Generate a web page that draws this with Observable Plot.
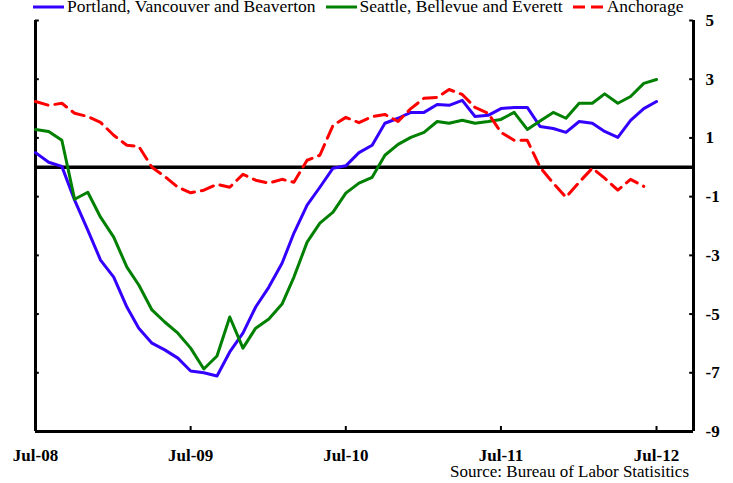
<!DOCTYPE html>
<html>
<head>
<meta charset="utf-8">
<script src="https://cdn.jsdelivr.net/npm/d3@7"></script>
<script src="https://cdn.jsdelivr.net/npm/@observablehq/plot@0.6"></script>
<style>
  html, body { margin: 0; padding: 0; background: #fff; }
  #wrap { position: relative; width: 733px; height: 483px; overflow: hidden; font-family: "Liberation Serif", "Times New Roman", serif; }
  #legend { position: absolute; left: 33px; top: -4px; display: flex; align-items: center; font-size: 17.5px; white-space: nowrap; color: #000; }
  #legend .item { display: flex; align-items: center; margin-right: 10px; }
  #legend svg { margin-right: 3px; }
  #source { position: absolute; right: 44px; top: 463px; font-size: 17px; line-height: 17px; color: #000; white-space: nowrap; }
  #chart { position: absolute; left: 0; top: 0; }
</style>
</head>
<body>
<div id="wrap">
  <div id="chart"></div>
  <div id="legend"></div>
  <div id="source">Source: Bureau of Labor Statisitics</div>
</div>
<script>
// ---- Data (percent change, monthly, Jul-08 .. Jul-12) ----
const seriesNames = ["Portland, Vancouver and Beaverton", "Seattle, Bellevue and Everett", "Anchorage"];
const seriesColors = ["#3300ff", "#008000", "#ff0000"];

const portland = [0.5,0.17,0.03,-1.12,-2.14,-3.16,-3.74,-4.76,-5.48,-5.99,-6.22,-6.5,-6.94,-7.0,-7.11,-6.29,-5.65,-4.76,-4.08,-3.27,-2.24,-1.29,-0.68,-0.03,0.05,0.5,0.75,1.5,1.67,1.87,1.87,2.14,2.11,2.28,1.73,1.77,2.0,2.04,2.04,1.39,1.32,1.19,1.56,1.5,1.22,1.02,1.6,2.0,2.24];
const seattle = [1.29,1.22,0.92,-1.09,-0.85,-1.7,-2.38,-3.4,-4.01,-4.86,-5.27,-5.65,-6.16,-6.87,-6.43,-5.1,-6.16,-5.48,-5.17,-4.66,-3.74,-2.55,-1.9,-1.53,-0.88,-0.54,-0.34,0.41,0.78,1.02,1.19,1.56,1.5,1.6,1.5,1.56,1.63,1.87,1.29,1.58,1.87,1.67,2.18,2.18,2.5,2.18,2.41,2.86,2.99];
const anchorage = [2.24,2.11,2.18,1.84,1.73,1.53,1.09,0.75,0.71,0.0,-0.31,-0.68,-0.87,-0.78,-0.58,-0.68,-0.24,-0.44,-0.54,-0.41,-0.51,0.24,0.41,1.43,1.7,1.52,1.73,1.8,1.56,2.0,2.35,2.38,2.65,2.48,2.04,1.84,1.19,0.92,0.92,0.0,-0.54,-1.02,-0.51,-0.03,-0.37,-0.78,-0.41,-0.65];

const yTicks = [5, 3, 1, -1, -3, -5, -7, -9];
const xTickLabels = ["Jul-08", "Jul-09", "Jul-10", "Jul-11", "Jul-12"];

// ---- Build tables ----
const month = i => new Date(Date.UTC(2008, 6 + i, 1));
const toRows = (arr, name) => arr.map((v, i) => ({date: month(i), value: v, series: name}));
const rowsP = toRows(portland, seriesNames[0]);
const rowsS = toRows(seattle, seriesNames[1]);
const rowsA = toRows(anchorage, seriesNames[2]);

const xStart = month(0);
const xEnd = new Date(Date.UTC(2012, 8, 26));
const xTicks = xTickLabels.map((_, k) => month(12 * k));
const tickDays = 9 * 864e5;
const yMin = -9, yMax = 5;

const chart = Plot.plot({
  width: 733,
  height: 483,
  marginLeft: 35,
  marginRight: 40,
  marginTop: 20,
  marginBottom: 52,
  style: {fontFamily: "'Liberation Serif', 'Times New Roman', serif", fontSize: "17px", color: "#000", background: "transparent"},
  x: {type: "utc", domain: [xStart, xEnd]},
  y: {domain: [yMin, yMax]},
  marks: [
    // frame (left, right, bottom)
    Plot.ruleX([xStart], {y1: yMin, y2: yMax, stroke: "#000", strokeWidth: 3}),
    Plot.ruleX([xEnd], {y1: yMin, y2: yMax, stroke: "#000", strokeWidth: 3}),
    Plot.ruleY([yMin], {x1: xStart, x2: xEnd, stroke: "#000", strokeWidth: 3}),
    // inward ticks
    Plot.ruleY(yTicks, {y: d => d, x1: xStart, x2: new Date(+xStart + tickDays), stroke: "#000", strokeWidth: 2}),
    Plot.ruleY(yTicks, {y: d => d, x1: new Date(+xEnd - tickDays), x2: xEnd, stroke: "#000", strokeWidth: 2}),
    Plot.ruleX(xTicks.slice(1), {x: d => d, y1: yMin, y2: yMin + 0.17, stroke: "#000", strokeWidth: 2}),
    // axes labels
    Plot.axisY({anchor: "right", ticks: yTicks, tickSize: 0, tickPadding: 12, tickFormat: d => String(d), fontWeight: "bold", fontSize: 17, label: null}),
    Plot.axisX({ticks: xTicks, tickSize: 0, tickPadding: 17, tickFormat: (d, i) => xTickLabels[i], fontWeight: "bold", fontSize: 17, label: null}),
    // zero line
    Plot.ruleY([0], {x1: xStart, x2: xEnd, stroke: "#000", strokeWidth: 3.5}),
    // series
    Plot.line(rowsP, {x: "date", y: "value", stroke: seriesColors[0], strokeWidth: 3}),
    Plot.line(rowsS, {x: "date", y: "value", stroke: seriesColors[1], strokeWidth: 3}),
    Plot.line(rowsA, {x: "date", y: "value", stroke: seriesColors[2], strokeWidth: 3, strokeDasharray: "13,7"})
  ]
});
document.getElementById("chart").appendChild(chart);

// ---- Legend ----
const legend = document.getElementById("legend");
seriesNames.forEach((name, k) => {
  const item = document.createElement("div");
  item.className = "item";
  const dash = k === 2 ? 'stroke-dasharray="12,6"' : "";
  item.innerHTML = `<svg width="31" height="6"><line x1="0" y1="3" x2="31" y2="3" stroke="${seriesColors[k]}" stroke-width="3" ${dash}/></svg><span>${name}</span>`;
  legend.appendChild(item);
});
</script>
</body>
</html>
